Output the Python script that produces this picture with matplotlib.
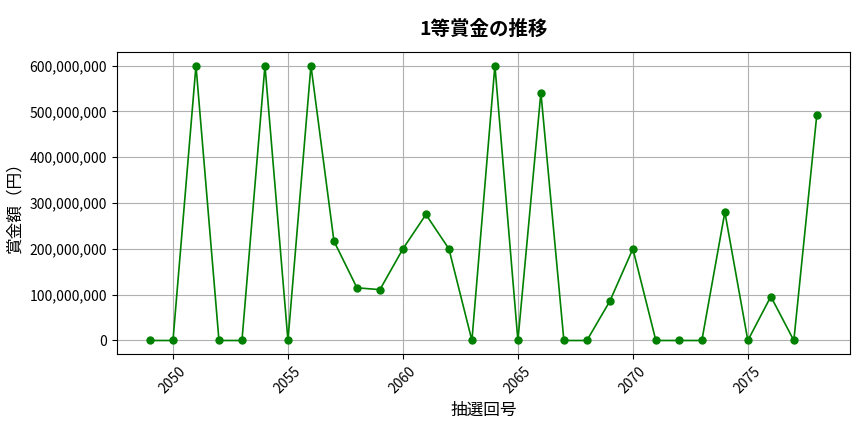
import numpy as np
import matplotlib.pyplot as plt
from matplotlib.ticker import FuncFormatter

plt.rcParams['font.family'] = ['Noto Sans CJK JP', 'DejaVu Sans']

draws = list(range(2049, 2079))
prize = [0, 0, 600000000, 0, 0, 600000000, 0, 600000000, 217000000, 115000000,
         111000000, 200000000, 275000000, 200000000, 0, 600000000, 0, 541000000, 0, 0,
         86000000, 200000000, 0, 0, 0, 280000000, 0, 96000000, 0, 493000000]

fig, ax = plt.subplots(figsize=(8.64, 4.32), dpi=100)
ax.plot(draws, prize, marker='o', color='green', markersize=5, linewidth=1.2)
ax.set_title("1等賞金の推移", fontsize=14, fontweight='bold', pad=12)
ax.set_xlabel("抽選回号", fontsize=12)
ax.set_ylabel("賞金額（円）", fontsize=12)
ax.yaxis.set_major_formatter(FuncFormatter(lambda v, p: f"{int(v):,}"))
ax.tick_params(labelsize=10)
plt.xticks(rotation=45)
ax.grid(True)
fig.subplots_adjust(left=0.135, right=0.984, top=0.88, bottom=0.18)
fig.savefig("out.png")
